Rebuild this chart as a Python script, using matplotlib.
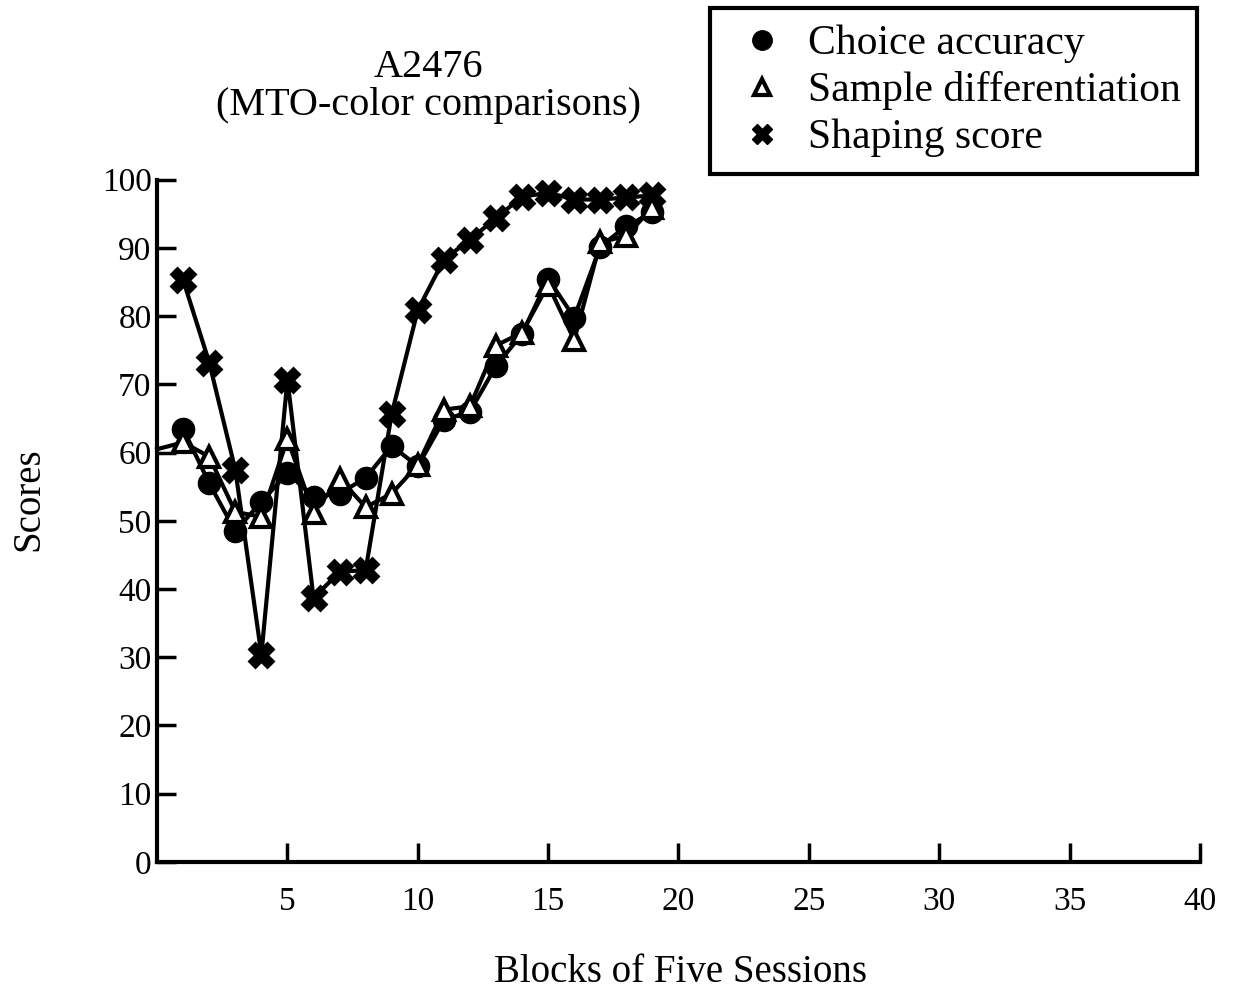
import numpy as np
import matplotlib
matplotlib.use("Agg")
import matplotlib.pyplot as plt
from matplotlib.lines import Line2D

plt.rcParams["font.family"] = ["Liberation Serif", "DejaVu Serif"]

# Data
blocks = list(range(1, 20))
choice_accuracy = [63.5, 55.5, 48.5, 52.8, 57, 53.5, 54, 56.3, 61, 58,
                   64.8, 66, 72.7, 77.4, 85.5, 79.8, 90.2, 93.2, 95.2]
sample_diff_x = [0] + blocks
sample_diff = [60.5, 61.5, 59.4, 51.3, 50.6, 62, 51.2, 56.2, 52, 54, 58.2,
               66.3, 66.8, 75.7, 77.6, 84.6, 76.5, 90.8, 91.8, 95.9]
shaping_score = [85.3, 73.2, 57.5, 30.4, 70.7, 38.7, 42.5, 42.8, 65.7, 80.9,
                 88.3, 91.2, 94.4, 97.5, 98.1, 97.1, 97.1, 97.4, 97.7]

x_ticks = [5, 10, 15, 20, 25, 30, 35, 40]
y_ticks = list(range(0, 101, 10))

fig = plt.figure(figsize=(12.37, 9.93), dpi=100)
ax = fig.add_axes([0.127, 0.132, 0.843, 0.687])

lw = 3.0
ax.plot(blocks, shaping_score, color="black", lw=lw, marker="X",
        markersize=17, markerfacecolor="black", markeredgecolor="black",
        markeredgewidth=2, zorder=3)
ax.plot(blocks, choice_accuracy, color="black", lw=lw, marker="o",
        markersize=16, markerfacecolor="black", markeredgecolor="black",
        zorder=4)
ax.plot(sample_diff_x, sample_diff, color="black", lw=lw, marker="^",
        markersize=14, markerfacecolor="white", markeredgecolor="black",
        markeredgewidth=3, markevery=list(range(1, len(sample_diff))),
        zorder=5, clip_on=False)

ax.set_xlim(0, 40)
ax.set_ylim(0, 100)
ax.set_xticks(x_ticks)
ax.set_yticks(y_ticks)
ax.tick_params(direction="in", length=14, width=2.5, labelsize=24)
ax.tick_params(axis="x", pad=18)
ax.tick_params(axis="y", pad=4)
for side in ("top", "right"):
    ax.spines[side].set_visible(False)
for side in ("left", "bottom"):
    ax.spines[side].set_linewidth(3)

fig.text(0.023, 0.497, "Scores", rotation=90, ha="center", va="center",
         fontsize=28)
fig.text(0.55, 0.021, "Blocks of Five Sessions", ha="center", va="center",
         fontsize=28)

fig.text(0.346, 0.9325, "A2476", ha="center", va="center", fontsize=29)
fig.text(0.346, 0.894, "(MTO-color comparisons)", ha="center", va="center",
         fontsize=29)

handles = [
    Line2D([], [], ls="none", marker="o", markersize=14, color="black"),
    Line2D([], [], ls="none", marker="^", markersize=11,
           markerfacecolor="white", markeredgecolor="black",
           markeredgewidth=3),
    Line2D([], [], ls="none", marker="X", markersize=14, color="black"),
]
leg = fig.legend(handles, ["Choice accuracy", "Sample differentiation",
                           "Shaping score"],
                 loc="upper right", bbox_to_anchor=(0.9677, 0.992),
                 fontsize=30, frameon=True, fancybox=False, edgecolor="black",
                 framealpha=1, handlelength=1.73, handletextpad=0.22,
                 borderpad=0.4, labelspacing=0.2, borderaxespad=0)
leg.get_frame().set_linewidth(3)

fig.savefig("out.png", dpi=100, facecolor="white")
